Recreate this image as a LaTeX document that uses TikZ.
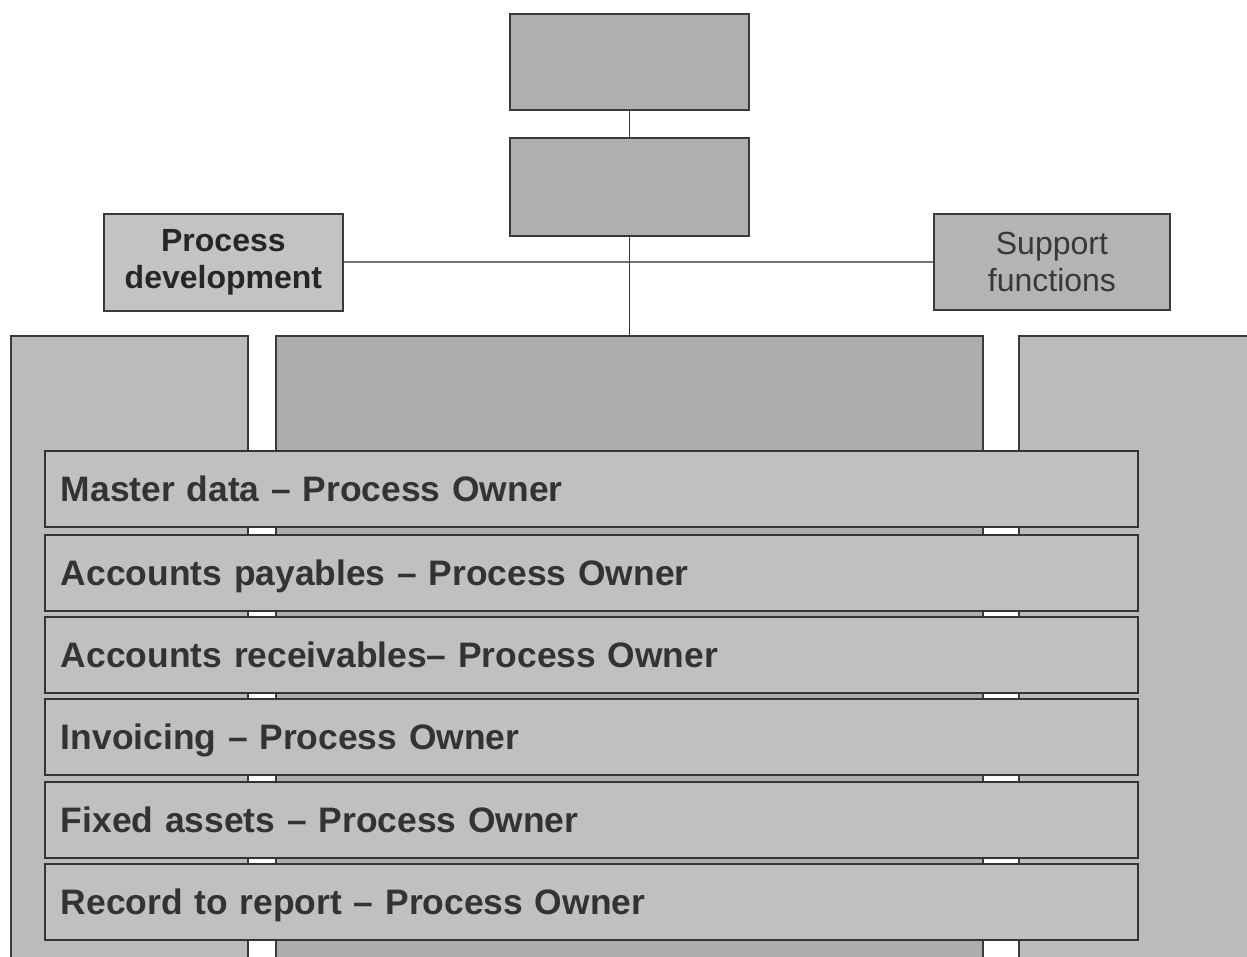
\documentclass[tikz,border=0pt]{standalone}
\usepackage{fontspec}
\setmainfont{Liberation Sans}
\usetikzlibrary{shadows}
\definecolor{edge}{HTML}{3A3A3A}
\definecolor{topfill}{HTML}{AFAFAF}
\definecolor{midcol}{HTML}{ADADAD}
\definecolor{sidecol}{HTML}{BBBBBB}
\definecolor{bandfill}{HTML}{C0C0C0}
\definecolor{pdevfill}{HTML}{C3C3C3}
\definecolor{suppfill}{HTML}{B4B4B4}
\definecolor{bandtext}{HTML}{333333}
\begin{document}
\begin{tikzpicture}[x=1pt,y=-1pt,
  box/.style={draw=edge, line width=1.8pt, inner sep=0pt, anchor=north west},
  topbox/.style={box, fill=topfill, minimum width=239pt, minimum height=96pt},
  sidebox/.style={box, minimum width=239pt, minimum height=97pt, align=center,
    font=\fontsize{32}{37}\selectfont},
  column/.style={box, minimum height=660pt},
  band/.style={box, fill=bandfill, line width=1.9pt, draw=edge!90!black,
    minimum height=76pt, text width=1061pt, inner xsep=16pt, align=left,
    text height=26pt, text depth=0pt, text=bandtext,
    font=\bfseries\fontsize{35.4}{40}\selectfont,
    drop shadow={shadow xshift=1.2pt, shadow yshift=-1.2pt, fill=black!65, opacity=1}},
  link/.style={draw=edge, line width=1.8pt},
  hlink/.style={draw=black!55, line width=1.8pt}]
\useasboundingbox (0,0) rectangle (1247,957);
\clip (0,0) rectangle (1247,957);

% three columns behind the process bands
\node[column, fill=sidecol, minimum width=237pt] (colL) at (10,335) {};
\node[column, fill=midcol, minimum width=707pt] (colM) at (275,335) {};
\node[column, fill=sidecol, minimum width=260pt] (colR) at (1018,335) {};

% top of the hierarchy
\node[topbox] (top1) at (509,13) {};
\node[topbox, minimum height=98pt] (top2) at (509,137) {};

% staff functions
\node[sidebox, fill=pdevfill, text=black!85, font=\bfseries\fontsize{32}{37}\selectfont]
  (pdev) at (103,213) {Process\\development};
\node[sidebox, fill=suppfill, text=black!78, minimum width=236pt, minimum height=96pt]
  (supp) at (933,213) {Support\\functions};

% connectors
\draw[hlink] (pdev.east) -- (pdev.east -| supp.west);
\draw[link] (top1.south) -- (top2.north);
\draw[link] (top2.south) -- (colM.north);

% process owner bands
\node[band] (b1) at (44,450) {Master data – Process Owner};
\node[band] (b2) at (44,534) {Accounts payables – Process Owner};
\node[band] (b3) at (44,616) {Accounts receivables– Process Owner};
\node[band] (b4) at (44,698) {Invoicing – Process Owner};
\node[band] (b5) at (44,781) {Fixed assets – Process Owner};
\node[band] (b6) at (44,863) {Record to report – Process Owner};
\end{tikzpicture}
\end{document}
